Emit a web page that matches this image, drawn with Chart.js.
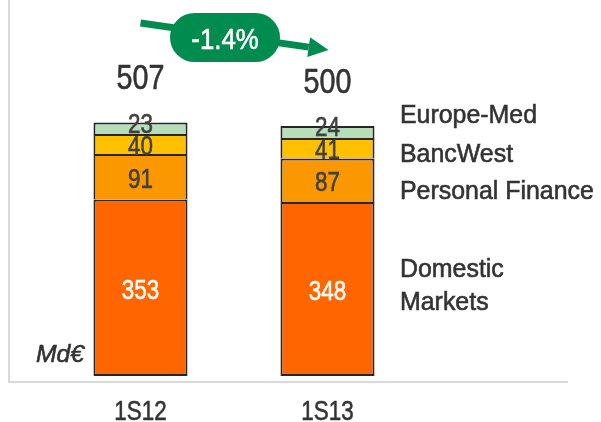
<!DOCTYPE html>
<html>
<head>
<meta charset="utf-8">
<script src="https://cdn.jsdelivr.net/npm/chart.js@4.4.1/dist/chart.umd.min.js"></script>
<style>
  html, body { margin: 0; padding: 0; background: #fff; }
  #wrap { width: 601px; height: 422px; position: relative; }
</style>
</head>
<body>
<div id="wrap"><canvas id="chart"></canvas></div>
<script>
const periods = ['1S12', '1S13'];
const domesticMarkets = [353, 348];
const personalFinance = [91, 87];
const bancWest = [40, 41];
const europeMed = [23, 24];
const totals = [507, 500];
const changeLabel = '-1.4%';
const unitLabel = 'Md€';

const FONT = '"Liberation Sans", Arial, sans-serif';
const GREEN = '#008c4f';

// right-hand series names (baselines), placed beside their segments
const legendRows = [
  { text: 'Europe-Med', y: 123 },
  { text: 'BancWest', y: 162 },
  { text: 'Personal Finance', y: 199 },
  { text: 'Domestic', y: 277 },
  { text: 'Markets', y: 310 },
];

// draws text squeezed horizontally (narrow face out of Liberation Sans), slightly emboldened
function narrowText(ctx, s, x, y, size, squeeze, style = '') {
  ctx.save();
  ctx.translate(x, y);
  ctx.scale(squeeze, 1);
  ctx.font = `${style} ${size}px ${FONT}`;
  ctx.fillText(s, 0, 0);
  ctx.strokeStyle = ctx.fillStyle;
  ctx.lineWidth = 0.6;
  ctx.strokeText(s, 0, 0);
  ctx.restore();
}

const overlay = {
  id: 'overlay',
  beforeDatasetsDraw(chart) {
    const ctx = chart.ctx;
    const area = chart.chartArea;
    ctx.save();
    ctx.strokeStyle = '#dadada';
    ctx.lineWidth = 2;
    ctx.beginPath();
    ctx.moveTo(9, 0);
    ctx.lineTo(9, area.bottom + 6);
    ctx.lineTo(568, area.bottom + 6);
    ctx.stroke();
    ctx.restore();
  },
  afterDatasetsDraw(chart) {
    const ctx = chart.ctx;
    ctx.save();
    ctx.textAlign = 'center';
    ctx.textBaseline = 'alphabetic';
    const last = chart.data.datasets.length - 1;

    // segment values
    chart.data.datasets.forEach((ds, di) => {
      const meta = chart.getDatasetMeta(di);
      meta.data.forEach((bar, i) => {
        const yMid = di === last ? bar.y : (bar.y + bar.base) / 2 + 1;
        ctx.fillStyle = di === 0 ? '#ffffff' : '#404040';
        narrowText(ctx, String(ds.data[i]), bar.x, yMid + 10, 28, 0.8);
      });
    });

    // totals
    const topMeta = chart.getDatasetMeta(last);
    ctx.fillStyle = '#333333';
    topMeta.data.forEach((bar, i) => {
      narrowText(ctx, String(totals[i]), bar.x, bar.y - 46 + 12.5, 35, 0.82);
    });

    // category labels
    topMeta.data.forEach((bar, i) => {
      narrowText(ctx, periods[i], bar.x, 420, 28, 0.8);
    });

    // unit
    ctx.textAlign = 'right';
    narrowText(ctx, unitLabel, 84, 362, 24, 1.03, 'italic');

    // arrow between the totals
    const x0 = topMeta.data[0].x, x1 = topMeta.data[1].x + 1;
    const y0 = 23, y1 = 50;
    const ang = Math.atan2(y1 - y0, x1 - x0);
    const headLen = 20, headW = 10;
    const bx = x1 - headLen * Math.cos(ang), by = y1 - headLen * Math.sin(ang);
    ctx.strokeStyle = GREEN;
    ctx.fillStyle = GREEN;
    ctx.lineWidth = 7;
    ctx.beginPath();
    ctx.moveTo(x0, y0);
    ctx.lineTo(bx, by);
    ctx.stroke();
    ctx.beginPath();
    ctx.moveTo(x1, y1);
    ctx.lineTo(bx + headW * Math.sin(ang), by - headW * Math.cos(ang));
    ctx.lineTo(bx - headW * Math.sin(ang), by + headW * Math.cos(ang));
    ctx.closePath();
    ctx.fill();

    // pill with the change
    const pw = 110, ph = 49, pcx = 225, pcy = 37.5;
    ctx.beginPath();
    ctx.roundRect(pcx - pw / 2, pcy - ph / 2, pw, ph, ph / 2);
    ctx.fill();
    ctx.fillStyle = '#ffffff';
    ctx.textAlign = 'center';
    narrowText(ctx, changeLabel, pcx, pcy + 11, 30, 0.86);

    // series names on the right
    ctx.textAlign = 'left';
    ctx.fillStyle = '#333333';
    legendRows.forEach((r) => narrowText(ctx, r.text, 400, r.y, 26.5, 0.94));

    ctx.restore();
  },
};

new Chart(document.getElementById('chart'), {
  type: 'bar',
  data: {
    labels: periods,
    datasets: [
      { label: 'Domestic Markets', data: domesticMarkets, backgroundColor: '#ff6600', borderSkipped: false },
      { label: 'Personal Finance', data: personalFinance, backgroundColor: '#fb9800', borderSkipped: 'start' },
      { label: 'BancWest', data: bancWest, backgroundColor: '#ffc000', borderSkipped: 'start' },
      { label: 'Europe-Med', data: europeMed, backgroundColor: '#b6deb8', borderSkipped: 'start' },
    ].map((d) => ({
      ...d,
      borderColor: '#262626',
      borderWidth: 2,
      categoryPercentage: 1,
      barPercentage: 0.503,
    })),
  },
  options: {
    responsive: true,
    maintainAspectRatio: false,
    animation: false,
    layout: { padding: { left: 47, right: 180, top: 26, bottom: 46 } },
    plugins: { legend: { display: false }, tooltip: { enabled: false } },
    scales: {
      x: { stacked: true, display: false },
      y: { stacked: true, display: false, min: 0, max: 700 },
    },
  },
  plugins: [overlay],
});
</script>
</body>
</html>
